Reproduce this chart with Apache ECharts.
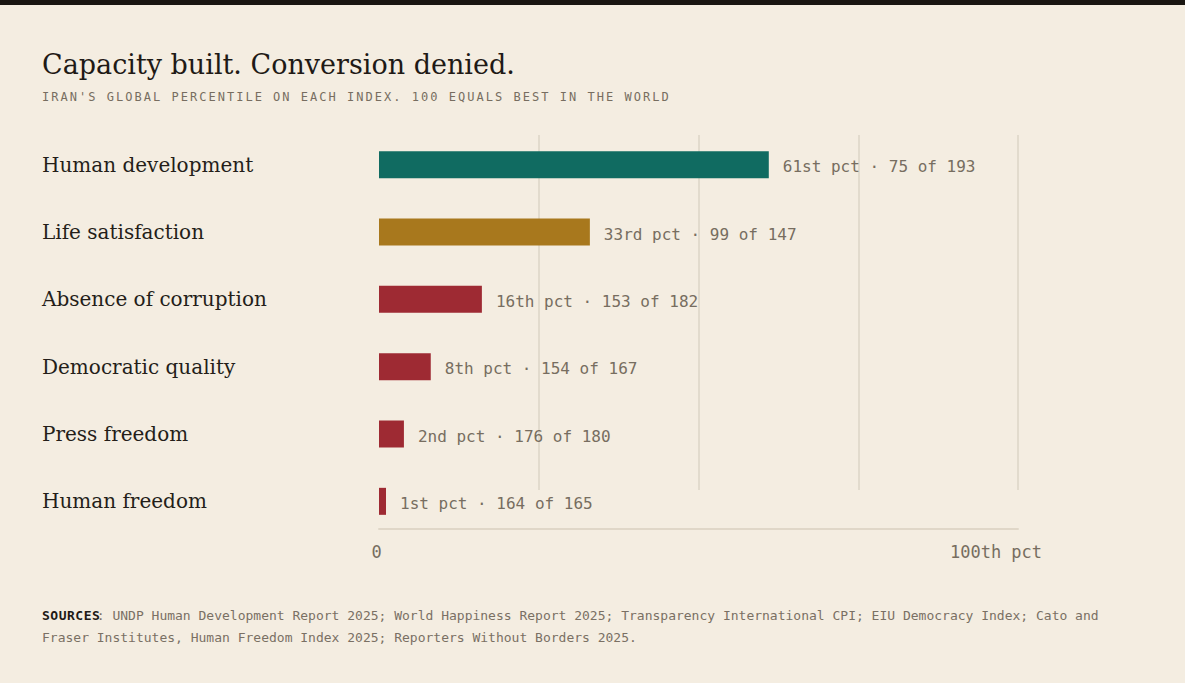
<!DOCTYPE html>
<html>
<head>
<meta charset="utf-8">
<title>Capacity built. Conversion denied.</title>
<script src="https://cdn.jsdelivr.net/npm/echarts@6/dist/echarts.min.js"></script>
<style>
  html, body { margin: 0; padding: 0; background: #f4ede1; }
  #chart { width: 1185px; height: 683px; }
</style>
</head>
<body>
<div id="chart"></div>
<script>
// indices, top to bottom
var categories = ['Human development', 'Life satisfaction', 'Absence of corruption', 'Democratic quality', 'Press freedom', 'Human freedom'];
// bar length, percentile of the world (0 = worst, 100 = best)
var pctValues = [61, 33, 16.1, 8.1, 3.9, 1.1];
var pctNames = ['61st', '33rd', '16th', '8th', '2nd', '1st'];
var ranks = [75, 99, 153, 154, 176, 164];
var totals = [193, 147, 182, 167, 180, 165];
var axisTicks = [0, 100];

var serif = '"DejaVu Serif", Georgia, serif';
var mono = '"DejaVu Sans Mono", "Liberation Mono", monospace';

function barColor(v) {
  if (v >= 50) return '#106b61';
  if (v >= 25) return '#a8781d';
  return '#9e2a33';
}

var chart = echarts.init(document.getElementById('chart'), null, { renderer: 'svg' });

var option = {
  backgroundColor: '#f4ede1',
  animation: false,
  graphic: [{
    type: 'rect',
    left: 0, top: 0,
    shape: { width: 1185, height: 5 },
    style: { fill: '#1a1612' },
    silent: true
  }],
  title: [{
    text: 'Capacity built. Conversion denied.',
    left: 42, top: 51, padding: 0,
    textStyle: { fontFamily: serif, fontSize: 27, fontWeight: 'normal', color: '#1f1a16' }
  }, {
    text: "IRAN'S GLOBAL PERCENTILE ON EACH INDEX. 100 EQUALS BEST IN THE WORLD",
    left: 42, top: 91, padding: 0,
    textStyle: { fontFamily: mono, fontSize: 12, fontWeight: 'normal', color: '#776d60' }
  }, {
    text: '{b|SOURCES}: UNDP Human Development Report 2025; World Happiness Report 2025; Transparency International CPI; EIU Democracy Index; Cato and\nFraser Institutes, Human Freedom Index 2025; Reporters Without Borders 2025.',
    left: 42, top: 604, padding: 0,
    textStyle: {
      fontFamily: mono, fontSize: 13, fontWeight: 'normal', color: '#7a7064', lineHeight: 22,
      rich: {
        b: { fontFamily: mono, fontSize: 13, fontWeight: 'bold', color: '#1f1a16', lineHeight: 22 }
      }
    }
  }],
  grid: [
    { left: 379, width: 639, top: 131, height: 404 },   // bars
    { left: 379, width: 639, top: 135, height: 355 },   // gridlines
    { left: 379, width: 639, top: 528, height: 1 }      // baseline + end labels
  ],
  xAxis: [{
    gridIndex: 0, type: 'value', min: 0, max: 100, show: false
  }, {
    gridIndex: 1, type: 'value', min: 0, max: 100, interval: 25,
    axisLine: { show: false },
    axisTick: { show: false },
    axisLabel: { show: false },
    splitLine: { show: true, showMinLine: false, lineStyle: { color: '#ddd4c6', width: 1.5 } }
  }, {
    gridIndex: 2, type: 'value', min: 0, max: 100, interval: 25,
    axisLine: { show: true, lineStyle: { color: '#e0d7c8', width: 2 } },
    axisTick: { show: false },
    splitLine: { show: false },
    axisLabel: {
      margin: 14,
      fontFamily: mono, fontSize: 17, color: '#776d60',
      formatter: function (v) {
        if (axisTicks.indexOf(v) < 0) return '';
        return v === 100 ? '{m|100th pct}' : '{z|' + v + '}';
      },
      rich: {
        m: { fontFamily: mono, fontSize: 17, color: '#776d60', padding: [0, 44, 0, 0] },
        z: { fontFamily: mono, fontSize: 17, color: '#776d60', padding: [0, 5, 0, 0] }
      }
    }
  }],
  yAxis: [{
    gridIndex: 0, type: 'category', inverse: true, data: categories,
    axisLine: { show: false },
    axisTick: { show: false },
    splitLine: { show: false },
    axisLabel: {
      align: 'left', margin: 337,
      fontFamily: serif, fontSize: 20, color: '#241e19'
    }
  }, {
    gridIndex: 1, type: 'value', show: false
  }, {
    gridIndex: 2, type: 'value', show: false
  }],
  series: [{
    type: 'bar',
    xAxisIndex: 0, yAxisIndex: 0,
    barWidth: 27,
    data: pctValues.map(function (v) {
      return { value: v, itemStyle: { color: barColor(v) } };
    }),
    label: {
      show: true, position: 'right', distance: 14, offset: [0, 2],
      fontFamily: mono, fontSize: 16, color: '#776d60',
      formatter: function (p) {
        var i = p.dataIndex;
        return pctNames[i] + ' pct \u00b7 ' + ranks[i] + ' of ' + totals[i];
      }
    }
  }]
};

chart.setOption(option);

// subtitle and the SOURCES tag are letter-spaced in the original
function spaceText() {
  var texts = document.querySelectorAll('#chart text, #chart tspan');
  for (var i = 0; i < texts.length; i++) {
    var t = texts[i].textContent;
    if (t.indexOf("IRAN'S") === 0) {
      texts[i].setAttribute('letter-spacing', '2.02');
    } else if (t === 'SOURCES') {
      texts[i].setAttribute('letter-spacing', '0.5');
    }
  }
}
spaceText();
chart.on('finished', spaceText);
setTimeout(spaceText, 50);
</script>
</body>
</html>
